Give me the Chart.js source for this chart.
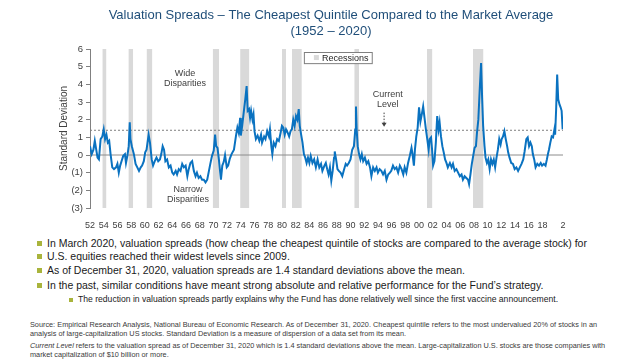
<!DOCTYPE html>
<html>
<head>
<meta charset="utf-8">
<script src="https://cdn.jsdelivr.net/npm/chart.js@4.4.1/dist/chart.umd.min.js"></script>
<style>
  body { margin: 0; background: #fff; width: 624px; height: 359px; overflow: hidden; position: relative;
         font-family: "Liberation Sans", Arial, sans-serif; color: #1a1a1a; }
  #wrap { position: absolute; left: 0; top: 0; width: 624px; height: 232px; }
  .b { position: absolute; font-size: 10.5px; line-height: 13px; white-space: nowrap; }
  .b::before { content: ""; position: absolute; left: -10px; top: 4px; width: 5px; height: 5px; background: #a9b43c; }
  .sub { font-size: 8.6px; line-height: 11px; }
  .sub::before { width: 4px; height: 4px; left: -9px; top: 4px; }
  .fn { position: absolute; left: 30px; width: 567px; font-size: 7.3px; line-height: 9px; color: #3a3a3a; white-space: nowrap; }
  .j { text-align: justify; text-align-last: justify; }
</style>
</head>
<body>
<div id="wrap"><canvas id="myChart" width="624" height="232"></canvas></div>

<div class="b" style="left:47px; top:237px;">In March 2020, valuation spreads (how cheap the cheapest quintile of stocks are compared to the average stock) for</div>
<div class="b" style="left:47px; top:250px;"><span style="position:relative">U.S. equities reached their widest levels since 2009.</span></div>
<div class="b" style="left:47px; top:264px;">As of December 31, 2020, valuation spreads are 1.4 standard deviations above the mean.</div>
<div class="b" style="left:47px; top:279px;">In the past, similar conditions have meant strong absolute and relative performance for the Fund’s strategy.</div>
<div class="b sub" style="left:78px; top:294px;">The reduction in valuation spreads partly explains why the Fund has done relatively well since the first vaccine announcement.</div>

<div class="fn j" style="top:320px;">Source: Empirical Research Analysis, National Bureau of Economic Research. As of December 31, 2020. Cheapest quintile refers to the most undervalued 20% of stocks in an</div>
<div class="fn" style="top:329px;">analysis of large-capitalization US stocks. Standard Deviation is a measure of dispersion of a data set from its mean.</div>
<div class="fn j" style="top:341px;"><i>Current Level</i> refers to the valuation spread as of December 31, 2020 which is 1.4 standard deviations above the mean. Large-capitalization U.S. stocks are those companies with</div>
<div class="fn" style="top:350px;">market capitalization of $10 billion or more.</div>

<script>
// Datos

const years = [
  1952.0, 1952.25, 1952.5, 1952.7, 1953.1, 1953.3, 1953.55, 1953.8, 1954.0, 1954.2, 1954.4, 1954.6, 1954.8,
  1955.0, 1955.25, 1955.5, 1955.8, 1956.0, 1956.2, 1956.4, 1956.6, 1956.85, 1957.1, 1957.25, 1957.45, 1957.65,
  1957.8, 1957.9, 1958.1, 1958.4, 1958.65, 1958.9, 1959.15, 1959.4, 1959.6, 1959.85, 1960.05, 1960.25, 1960.55,
  1960.75, 1961.0, 1961.2, 1961.45, 1961.7, 1961.95, 1962.2, 1962.4, 1962.6, 1962.8, 1963.0, 1963.25, 1963.5,
  1963.75, 1964.0, 1964.2, 1964.5, 1964.7, 1964.95, 1965.2, 1965.45, 1965.7, 1965.95, 1966.2, 1966.4, 1966.65,
  1966.9, 1967.15, 1967.4, 1967.6, 1967.85, 1968.1, 1968.35, 1968.6, 1968.85, 1969.1, 1969.3, 1969.55, 1969.8,
  1970.05, 1970.25, 1970.4, 1970.6, 1970.8, 1971.1, 1971.3, 1971.5, 1971.7, 1971.95, 1972.15, 1972.4, 1972.65,
  1973.0, 1973.3, 1973.5, 1973.7, 1973.9, 1974.0, 1974.2, 1974.45, 1974.65, 1974.85, 1975.0, 1975.2, 1975.35,
  1975.5, 1975.7, 1975.85, 1976.0, 1976.2, 1976.45, 1976.7, 1976.95, 1977.1, 1977.4, 1977.6, 1977.85, 1978.1,
  1978.25, 1978.45, 1978.6, 1978.8, 1979.05, 1979.3, 1979.55, 1979.8, 1980.0, 1980.2, 1980.4, 1980.6, 1980.85,
  1981.05, 1981.25, 1981.45, 1981.65, 1981.85, 1982.05, 1982.25, 1982.45, 1982.6, 1982.8, 1983.0, 1983.2,
  1983.4, 1983.6, 1983.8, 1984.0, 1984.2, 1984.45, 1984.7, 1984.95, 1985.2, 1985.45, 1985.7, 1985.9, 1986.2,
  1986.4, 1986.6, 1986.8, 1987.0, 1987.2, 1987.4, 1987.6, 1987.7, 1987.9, 1988.1, 1988.3, 1988.55, 1988.8,
  1989.0, 1989.3, 1989.5, 1989.75, 1990.0, 1990.25, 1990.5, 1990.7, 1990.8, 1990.9, 1991.05, 1991.25, 1991.45,
  1991.65, 1991.85, 1992.1, 1992.35, 1992.6, 1992.85, 1993.05, 1993.3, 1993.55, 1993.8, 1994.0, 1994.25,
  1994.5, 1994.75, 1995.0, 1995.25, 1995.5, 1995.75, 1995.95, 1996.2, 1996.45, 1996.7, 1996.95, 1997.2,
  1997.45, 1997.7, 1997.9, 1998.15, 1998.4, 1998.65, 1998.9, 1999.05, 1999.25, 1999.4, 1999.6, 1999.8, 2000.0,
  2000.2, 2000.4, 2000.6, 2000.8, 2001.0, 2001.2, 2001.4, 2001.55, 2001.75, 2001.9, 2002.05, 2002.25, 2002.45,
  2002.65, 2002.85, 2003.0, 2003.2, 2003.4, 2003.6, 2003.8, 2004.0, 2004.2, 2004.5, 2004.75, 2004.95, 2005.2,
  2005.45, 2005.7, 2005.95, 2006.2, 2006.4, 2006.65, 2006.9, 2007.15, 2007.3, 2007.5, 2007.7, 2007.9, 2008.1,
  2008.3, 2008.45, 2008.65, 2008.85, 2009.05, 2009.2, 2009.35, 2009.55, 2009.7, 2009.9, 2010.1, 2010.3, 2010.5,
  2010.7, 2010.9, 2011.1, 2011.3, 2011.5, 2011.7, 2011.9, 2012.05, 2012.25, 2012.45, 2012.65, 2012.85, 2013.0,
  2013.2, 2013.45, 2013.7, 2013.95, 2014.2, 2014.45, 2014.7, 2014.95, 2015.2, 2015.4, 2015.65, 2015.85, 2016.05,
  2016.25, 2016.45, 2016.6, 2016.8, 2017.0, 2017.25, 2017.5, 2017.75, 2017.95, 2018.2, 2018.45, 2018.65,
  2018.8, 2018.95, 2019.15, 2019.35, 2019.55, 2019.75, 2019.85, 2020.0, 2020.15, 2020.3, 2020.5, 2020.65,
  2020.8, 2020.95
];

const spreads = [
  0.5, 0.05, 0.3, 0.8, -0.15, -0.25, 0.9, 1.05, 1.45, 0.9, 1.15, 0.7, 0.8,
  0.05, -0.7, -0.8, -0.7, -0.5, -1.0, -0.6, -0.35, -0.05, 0.05, -0.45, -0.05, 0.5,
  1.85, 0.9, 0.5, 0.05, -0.5, -0.7, -0.9, -0.7, -0.6, -0.35, 0.15, 0.3, 1.15,
  0.7, -0.25, -0.6, -0.35, -0.15, -0.35, -0.25, 0.05, 0.5, 0.3, -0.35, -0.25, -0.7,
  -0.6, -1.0, -1.1, -0.9, -1.1, -0.8, -0.9, -0.5, -0.7, -0.6, -1.2, -0.8, -0.45,
  -0.35, -0.9, -1.2, -1.0, -1.3, -1.2, -1.4, -1.4, -1.55, -1.4, -1.0, -0.5, -0.05,
  0.25, 1.15, 0.5, 0.4, -0.25, -1.4, -0.6, -0.4, 0.0, -0.7, -0.6, -0.2, 0.05,
  0.3, 1.1, 1.55, 1.25, 2.1, 1.1, 1.65, 2.5, 3.15, 3.9, 2.5, 2.6, 2.1,
  2.5, 2.0, 2.3, 1.35, 0.9, 1.1, 0.8, 1.15, 0.7, 1.05, 0.9, 1.35, 1.05,
  1.45, 0.5, 0.05, 0.7, 0.5, 0.9, 0.8, 1.25, 1.65, 1.55, 1.15, 1.45, 1.25,
  1.05, 1.35, 1.45, 2.0, 1.65, 2.2, 2.0, 2.6, 1.65, 1.15, 0.7, 0.05,
  -0.15, -0.45, -0.15, -0.45, -0.05, -0.45, -0.25, -0.7, -0.25, -0.7, -0.5, -0.9, -0.6,
  -0.45, -0.8, -1.1, -0.7, -1.45, -0.9, -0.15, 0.2, -0.25, -0.8, -0.9, -1.0, -1.2,
  -0.9, -0.5, -0.6, -0.45, -0.25, 0.3, 0.5, 1.45, 2.75, 1.45, 0.5, 0.05, -0.25,
  0.05, -0.35, -0.15, -0.5, -0.35, -0.7, -1.2, -0.7, -0.9, -0.7, -1.0, -0.8,
  -0.9, -1.1, -0.9, -1.4, -1.1, -1.0, -0.9, -0.6, -0.8, -0.7, -1.0, -0.6,
  -0.8, -1.1, -0.7, -1.0, -0.45, -0.05, 0.4, 0.05, -0.6, 0.3, 1.05, 1.55, 2.7,
  1.9, 2.3, 2.75, 2.1, 1.45, 0.9, 0.3, 0.9, 1.0, 0.3, -0.6, -0.35, 0.7,
  2.2, 1.45, 1.85, 1.05, 0.5, 0.15, -0.25, -0.45, -0.7, -0.45, -0.7, -0.5, -0.9,
  -0.8, -1.0, -1.2, -1.1, -1.4, -1.2, -1.3, -1.4, -1.65, -1.1, -0.5, -0.05, 0.4,
  0.5, 1.25, 2.0, 3.7, 5.2, 3.25, 1.65, 0.5, -0.15, -0.45, -0.25, -0.8, -0.25,
  -0.5, -0.25, -0.7, -0.15, 0.3, 0.9, 0.6, 0.9, 1.05, 1.35, 0.9, 0.5, 0.15,
  -0.15, -0.45, -0.5, -0.8, -0.7, -0.9, -0.7, -0.5, -0.25, 0.2, 0.9, 1.0, 0.5,
  0.7, 0.5, 0.05, -0.25, -0.7, -0.5, -0.6, -0.45, -0.6, -0.5, -0.6, -0.25,
  0.05, 0.3, 0.7, 1.05, 1.0, 1.45, 1.15, 2.6, 4.55, 3.15, 2.85, 2.7,
  2.5, 1.45
];

// periodos de recesion (inicio, fin)
const recessionStart = [1953.8, 1957.6, 1960.25, 1969.9, 1973.9, 1980.0, 1981.45, 1990.55, 2001.15, 2007.85];
const recessionEnd   = [1954.4, 1958.3, 1961.1, 1970.85, 1975.25, 1980.6, 1982.9, 1991.25, 2001.95, 2009.4];

const meanLevel = 0;
const currentLevel = 1.4;

const xTickYears = [1952, 1954, 1956, 1958, 1960, 1962, 1964, 1966, 1968, 1970, 1972, 1974, 1976, 1978,
  1980, 1982, 1984, 1986, 1988, 1990, 1992, 1994, 1996, 1998, 2000, 2002, 2004, 2006, 2008, 2010, 2012,
  2014, 2016, 2018, 2021];
const xTickLabels = ["52", "54", "56", "58", "60", "62", "64", "66", "68", "70", "72", "74", "76", "78",
  "80", "82", "84", "86", "88", "90", "92", "94", "96", "98", "00", "02", "04", "06", "08", "10", "12",
  "14", "16", "18", "2"];

const yMin = -3;
const yMax = 6;

// DOM
const ctx = document.getElementById("myChart");

Chart.defaults.font.family = "'Liberation Sans', Arial, sans-serif";
Chart.defaults.color = "#404040";

const firstYear = years[0];
const lastYear = 2021;

// puntos para la serie principal
const spreadPoints = years.map((y, i) => ({ x: y, y: spreads[i] }));

// recesiones como areas rellenas hasta el fondo
const recessionPoints = [];
recessionStart.forEach((s, i) => {
  recessionPoints.push({ x: s, y: yMax });
  recessionPoints.push({ x: recessionEnd[i], y: yMax });
  recessionPoints.push({ x: recessionEnd[i], y: null });
});

// notas de texto sobre el grafico
const notes = [
  { lines: ["Wide", "Disparities"], x: 1965.85, y: 4.35 },
  { lines: ["Narrow", "Disparities"], x: 1966.3, y: -2.25 },
  { lines: ["Current", "Level"], x: 1995.45, y: 3.15 },
];

const notesPlugin = {
  id: "notes",
  afterDatasetsDraw(chart) {
    const c = chart.ctx;
    const xs = chart.scales.x;
    const ys = chart.scales.y;
    c.save();
    c.font = "9px 'Liberation Sans', Arial, sans-serif";
    c.fillStyle = "#404040";
    c.textAlign = "center";
    c.textBaseline = "middle";
    notes.forEach((n) => {
      const px = xs.getPixelForValue(n.x);
      const py = ys.getPixelForValue(n.y);
      c.fillText(n.lines[0], px, py - 5);
      c.fillText(n.lines[1], px, py + 5);
    });

    // flecha de "Current Level"
    const ax = xs.getPixelForValue(1994.9);
    const ay1 = ys.getPixelForValue(2.4);
    const ay2 = ys.getPixelForValue(1.6);
    c.strokeStyle = "#404040";
    c.lineWidth = 1;
    c.setLineDash([1.5, 1.5]);
    c.beginPath();
    c.moveTo(ax, ay1);
    c.lineTo(ax, ay2 - 3);
    c.stroke();
    c.setLineDash([]);
    c.fillStyle = "#404040";
    c.beginPath();
    c.moveTo(ax - 2.5, ay2 - 4);
    c.lineTo(ax + 2.5, ay2 - 4);
    c.lineTo(ax, ay2);
    c.closePath();
    c.fill();

    // leyenda con borde
    const lx1 = xs.getPixelForValue(1983.2);
    const lx2 = xs.getPixelForValue(1993.1);
    const ly1 = ys.getPixelForValue(5.83);
    const ly2 = ys.getPixelForValue(5.2);
    c.fillStyle = "#ffffff";
    c.fillRect(lx1, ly1, lx2 - lx1, ly2 - ly1);
    c.strokeStyle = "#7f7f7f";
    c.strokeRect(lx1 + 0.5, ly1 + 0.5, lx2 - lx1, ly2 - ly1);
    c.fillStyle = "#d9d9d9";
    c.fillRect(lx1 + 10, (ly1 + ly2) / 2 - 2.5, 5, 5);
    c.fillStyle = "#262626";
    c.textAlign = "left";
    c.fillText("Recessions", lx1 + 18, (ly1 + ly2) / 2 + 0.5);
    c.restore();
  },
};

const myChart = new Chart(ctx, {
  type: "line",
  data: {
    datasets: [
      {
        label: "Spread",
        data: spreadPoints,
        borderColor: "#0a72c0",
        borderWidth: 2,
        pointRadius: 0,
        tension: 0,
        order: 0,
      },
      {
        label: "Mean",
        data: [{ x: firstYear, y: meanLevel }, { x: lastYear, y: meanLevel }],
        borderColor: "#8c8c8c",
        borderWidth: 1,
        pointRadius: 0,
        order: 1,
      },
      {
        label: "Current",
        data: [{ x: firstYear, y: currentLevel }, { x: lastYear, y: currentLevel }],
        borderColor: "#7f7f7f",
        borderWidth: 1,
        borderDash: [2, 2],
        pointRadius: 0,
        order: 1,
      },
      {
        label: "Recessions",
        data: recessionPoints,
        borderWidth: 0,
        borderColor: "rgba(0,0,0,0)",
        backgroundColor: "#d9d9d9",
        fill: "start",
        pointRadius: 0,
        spanGaps: false,
        order: 2,
      },
    ],
  },
  options: {
    responsive: false,
    animation: false,
    devicePixelRatio: 1,
    layout: { padding: { left: 38, right: 0, top: 0, bottom: 0 } },
    plugins: {
      legend: { display: false },
      tooltip: { enabled: false },
      title: {
        display: true,
        text: ["Valuation Spreads – The Cheapest Quintile Compared to the Market Average", "(1952 – 2020)"],
        color: "#1f4e79",
        font: { size: 13, weight: "normal", lineHeight: 1.25 },
        padding: { top: 7, bottom: 9.5 },
      },
    },
    scales: {
      x: {
        type: "linear",
        min: firstYear,
        max: lastYear,
        grid: { display: false },
        border: { display: false },
        afterBuildTicks: (scale) => {
          scale.ticks = xTickYears.map((v) => ({ value: v }));
        },
        afterFit: (scale) => {
          scale.height = 24;
        },
        ticks: {
          autoSkip: false,
          maxRotation: 0,
          padding: 4,
          font: { size: 9 },
          color: "#404040",
          callback: (value, index) => xTickLabels[index],
        },
      },
      y: {
        min: yMin,
        max: yMax,
        grid: { drawOnChartArea: false, drawTicks: true, tickLength: 4, color: "#808080" },
        border: { display: true, color: "#808080" },
        afterFit: (scale) => {
          scale.width = 52;
        },
        ticks: {
          stepSize: 1,
          padding: 3,
          font: { size: 9.5 },
          color: "#404040",
          callback: (v) => (v < 0 ? "(" + -v + ")" : String(v)),
        },
        title: {
          display: true,
          text: "Standard Deviation",
          font: { size: 10 },
          color: "#404040",
          padding: { top: 20, bottom: 0 },
        },
      },
      yRight: {
        position: "right",
        min: yMin,
        max: yMax,
        grid: { display: false },
        border: { display: false },
        ticks: { display: false },
        afterFit: (scale) => {
          scale.width = 61;
        },
      },
    },
  },
  plugins: [notesPlugin],
});
</script>
</body>
</html>
